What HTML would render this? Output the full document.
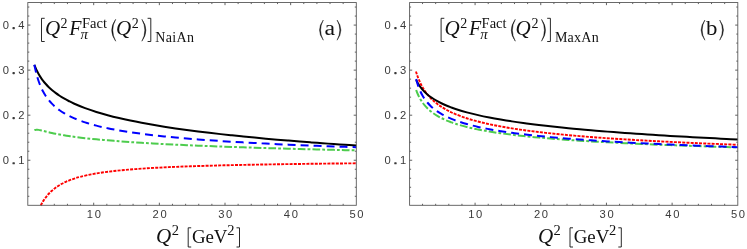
<!DOCTYPE html>
<html><head><meta charset="utf-8"><title>plot</title>
<style>
html,body{margin:0;padding:0;background:#fff;}
svg{display:block;will-change:transform;}
.tk{font-family:"Liberation Sans",sans-serif;font-size:11.2px;fill:#3a3a3a;}
.rm{font-family:"Liberation Serif",serif;fill:#111;}
.it{font-family:"Liberation Serif",serif;font-style:italic;fill:#111;}
</style></head><body>
<svg width="747" height="249" viewBox="0 0 747 249">
<rect width="747" height="249" fill="#fff"/>
<path d="M41.18 205.3v-1.5M41.18 2.55v1.5M54.31 205.3v-1.5M54.31 2.55v1.5M67.44 205.3v-1.5M67.44 2.55v1.5M80.57 205.3v-1.5M80.57 2.55v1.5M93.7 205.3v-2.6M93.7 2.55v2.6M106.83 205.3v-1.5M106.83 2.55v1.5M119.96 205.3v-1.5M119.96 2.55v1.5M133.09 205.3v-1.5M133.09 2.55v1.5M146.22 205.3v-1.5M146.22 2.55v1.5M159.35 205.3v-2.6M159.35 2.55v2.6M172.48 205.3v-1.5M172.48 2.55v1.5M185.61 205.3v-1.5M185.61 2.55v1.5M198.74 205.3v-1.5M198.74 2.55v1.5M211.87 205.3v-1.5M211.87 2.55v1.5M225 205.3v-2.6M225 2.55v2.6M238.13 205.3v-1.5M238.13 2.55v1.5M251.26 205.3v-1.5M251.26 2.55v1.5M264.39 205.3v-1.5M264.39 2.55v1.5M277.52 205.3v-1.5M277.52 2.55v1.5M290.65 205.3v-2.6M290.65 2.55v2.6M303.78 205.3v-1.5M303.78 2.55v1.5M316.91 205.3v-1.5M316.91 2.55v1.5M330.04 205.3v-1.5M330.04 2.55v1.5M343.17 205.3v-1.5M343.17 2.55v1.5M27.8 196.29h1.5M356.3 196.29h-1.5M27.8 187.28h1.5M356.3 187.28h-1.5M27.8 178.27h1.5M356.3 178.27h-1.5M27.8 169.26h1.5M356.3 169.26h-1.5M27.8 160.24h2.6M356.3 160.24h-2.6M27.8 151.23h1.5M356.3 151.23h-1.5M27.8 142.22h1.5M356.3 142.22h-1.5M27.8 133.21h1.5M356.3 133.21h-1.5M27.8 124.2h1.5M356.3 124.2h-1.5M27.8 115.19h2.6M356.3 115.19h-2.6M27.8 106.18h1.5M356.3 106.18h-1.5M27.8 97.17h1.5M356.3 97.17h-1.5M27.8 88.16h1.5M356.3 88.16h-1.5M27.8 79.14h1.5M356.3 79.14h-1.5M27.8 70.13h2.6M356.3 70.13h-2.6M27.8 61.12h1.5M356.3 61.12h-1.5M27.8 52.11h1.5M356.3 52.11h-1.5M27.8 43.1h1.5M356.3 43.1h-1.5M27.8 34.09h1.5M356.3 34.09h-1.5M27.8 25.08h2.6M356.3 25.08h-2.6M27.8 16.07h1.5M356.3 16.07h-1.5M27.8 7.06h1.5M356.3 7.06h-1.5" stroke="#444" stroke-width="0.85" fill="none"/>
<path d="M40.7 205.3C40.73 205.27 40.76 205.34 40.87 205.15C40.99 204.96 41.17 204.59 41.4 204.17C41.63 203.75 41.93 203.21 42.28 202.63C42.63 202.04 43.04 201.35 43.5 200.63C43.97 199.92 44.5 199.12 45.08 198.32C45.66 197.52 46.31 196.67 47.01 195.82C47.71 194.98 48.47 194.11 49.28 193.25C50.1 192.4 50.98 191.54 51.91 190.71C52.85 189.87 53.84 189.05 54.89 188.25C55.94 187.45 57.05 186.67 58.22 185.93C59.39 185.18 60.61 184.46 61.9 183.77C63.18 183.08 64.53 182.42 65.93 181.79C67.33 181.15 68.79 180.55 70.31 179.98C71.83 179.4 73.4 178.86 75.04 178.34C76.67 177.82 77.43 177.52 80.12 176.86C82.81 176.19 87.48 175.08 91.17 174.35C94.85 173.63 98.53 173.06 102.21 172.52C105.9 171.97 109.58 171.53 113.26 171.11C116.94 170.68 120.63 170.33 124.31 169.99C127.99 169.65 131.67 169.36 135.36 169.09C139.04 168.81 142.72 168.57 146.4 168.34C150.09 168.11 153.77 167.9 157.45 167.7C161.13 167.51 164.82 167.33 168.5 167.17C172.18 167 175.86 166.84 179.54 166.7C183.23 166.55 186.91 166.42 190.59 166.29C194.27 166.16 197.96 166.04 201.64 165.93C205.32 165.82 209 165.71 212.69 165.61C216.37 165.51 220.05 165.42 223.73 165.32C227.42 165.23 231.1 165.15 234.78 165.07C238.46 164.98 242.15 164.91 245.83 164.83C249.51 164.76 253.19 164.69 256.87 164.62C260.56 164.55 264.24 164.49 267.92 164.42C271.6 164.36 275.29 164.3 278.97 164.25C282.65 164.19 286.33 164.13 290.02 164.08C293.7 164.03 297.38 163.98 301.06 163.93C304.75 163.88 308.43 163.83 312.11 163.78C315.79 163.74 319.48 163.69 323.16 163.65C326.84 163.61 330.52 163.57 334.21 163.53C337.89 163.49 341.57 163.45 345.25 163.41C348.93 163.38 354.46 163.32 356.3 163.3" stroke="#ff0000" stroke-width="1.9" fill="none" stroke-dasharray="3.0 1.2" stroke-linejoin="round"/>
<path d="M34.37 130.28C34.4 130.26 34.43 130.24 34.55 130.19C34.66 130.13 34.84 130.04 35.07 129.97C35.3 129.89 35.6 129.8 35.95 129.76C36.3 129.71 36.71 129.68 37.17 129.7C37.64 129.72 38.17 129.77 38.75 129.87C39.33 129.96 39.98 130.1 40.68 130.26C41.38 130.42 42.14 130.61 42.96 130.82C43.77 131.02 44.65 131.26 45.58 131.49C46.52 131.73 47.51 131.98 48.56 132.22C49.61 132.47 50.72 132.73 51.89 132.98C53.06 133.24 54.28 133.5 55.57 133.75C56.85 134.01 58.2 134.26 59.6 134.52C61 134.77 62.46 135.02 63.98 135.27C65.5 135.52 67.07 135.77 68.71 136.01C70.34 136.26 71.06 136.38 73.79 136.74C76.52 137.09 81.32 137.71 85.09 138.14C88.86 138.57 92.62 138.96 96.39 139.33C100.16 139.69 103.92 140.03 107.69 140.35C111.46 140.67 115.22 140.97 118.99 141.26C122.76 141.54 126.53 141.81 130.29 142.07C134.06 142.32 137.83 142.56 141.59 142.8C145.36 143.03 149.13 143.25 152.89 143.46C156.66 143.67 160.43 143.88 164.19 144.07C167.96 144.27 171.73 144.46 175.49 144.64C179.26 144.82 183.03 144.99 186.79 145.16C190.56 145.33 194.33 145.49 198.09 145.65C201.86 145.81 205.63 145.96 209.39 146.11C213.16 146.26 216.93 146.4 220.7 146.54C224.46 146.69 228.23 146.82 232 146.95C235.76 147.09 239.53 147.21 243.3 147.34C247.06 147.47 250.83 147.59 254.6 147.71C258.36 147.83 262.13 147.94 265.9 148.06C269.66 148.17 273.43 148.28 277.2 148.39C280.96 148.5 284.73 148.61 288.5 148.71C292.26 148.82 296.03 148.92 299.8 149.02C303.56 149.12 307.33 149.22 311.1 149.31C314.87 149.41 318.63 149.5 322.4 149.59C326.17 149.69 329.93 149.78 333.7 149.87C337.47 149.95 341.23 150.04 345 150.13C348.77 150.21 354.42 150.34 356.3 150.38" stroke="#4dcc4d" stroke-width="2.0" fill="none" stroke-dasharray="7.7 2.1 2.8 2.1" stroke-linejoin="round"/>
<path d="M34.37 64.83C34.4 64.91 34.43 64.99 34.55 65.29C34.66 65.59 34.84 66.06 35.07 66.63C35.3 67.2 35.6 67.92 35.95 68.69C36.3 69.47 36.71 70.37 37.17 71.29C37.64 72.22 38.17 73.22 38.75 74.24C39.33 75.25 39.98 76.32 40.68 77.37C41.38 78.43 42.14 79.51 42.96 80.58C43.77 81.65 44.65 82.73 45.58 83.78C46.52 84.84 47.51 85.89 48.56 86.92C49.61 87.95 50.72 88.97 51.89 89.97C53.06 90.96 54.28 91.95 55.57 92.9C56.85 93.86 58.2 94.8 59.6 95.73C61 96.65 62.46 97.55 63.98 98.43C65.5 99.31 67.07 100.17 68.71 101.01C70.34 101.85 71.06 102.29 73.79 103.48C76.52 104.67 81.32 106.73 85.09 108.14C88.86 109.56 92.62 110.8 96.39 111.98C100.16 113.16 103.92 114.22 107.69 115.23C111.46 116.25 115.22 117.18 118.99 118.06C122.76 118.95 126.53 119.78 130.29 120.57C134.06 121.36 137.83 122.1 141.59 122.81C145.36 123.52 149.13 124.19 152.89 124.84C156.66 125.49 160.43 126.1 164.19 126.69C167.96 127.29 171.73 127.85 175.49 128.4C179.26 128.95 183.03 129.48 186.79 129.99C190.56 130.49 194.33 130.98 198.09 131.46C201.86 131.93 205.63 132.39 209.39 132.84C213.16 133.28 216.93 133.71 220.7 134.13C224.46 134.55 228.23 134.96 232 135.36C235.76 135.75 239.53 136.14 243.3 136.51C247.06 136.89 250.83 137.25 254.6 137.61C258.36 137.97 262.13 138.31 265.9 138.65C269.66 138.99 273.43 139.32 277.2 139.65C280.96 139.97 284.73 140.29 288.5 140.6C292.26 140.91 296.03 141.21 299.8 141.51C303.56 141.81 307.33 142.1 311.1 142.38C314.87 142.67 318.63 142.95 322.4 143.22C326.17 143.49 329.93 143.76 333.7 144.03C337.47 144.29 341.23 144.55 345 144.81C348.77 145.06 354.42 145.43 356.3 145.56" stroke="#000" stroke-width="2.0" fill="none" stroke-linejoin="round"/>
<path d="M34.37 64.69C34.4 64.84 34.43 65.02 34.55 65.6C34.66 66.17 34.84 67.1 35.07 68.16C35.3 69.23 35.6 70.58 35.95 71.99C36.3 73.39 36.71 75 37.17 76.59C37.64 78.19 38.17 79.89 38.75 81.54C39.33 83.19 39.98 84.88 40.68 86.5C41.38 88.12 42.14 89.73 42.96 91.27C43.77 92.81 44.65 94.31 45.58 95.74C46.52 97.18 47.51 98.56 48.56 99.88C49.61 101.2 50.72 102.46 51.89 103.66C53.06 104.87 54.28 106.01 55.57 107.11C56.85 108.21 58.2 109.26 59.6 110.26C61 111.26 62.46 112.21 63.98 113.12C65.5 114.04 67.07 114.9 68.71 115.74C70.34 116.57 71.06 117.02 73.79 118.13C76.52 119.23 81.32 121.12 85.09 122.37C88.86 123.62 92.62 124.64 96.39 125.62C100.16 126.6 103.92 127.43 107.69 128.22C111.46 129.02 115.22 129.72 118.99 130.38C122.76 131.04 126.53 131.64 130.29 132.21C134.06 132.77 137.83 133.29 141.59 133.79C145.36 134.28 149.13 134.74 152.89 135.17C156.66 135.61 160.43 136.01 164.19 136.4C167.96 136.79 171.73 137.15 175.49 137.5C179.26 137.85 183.03 138.18 186.79 138.5C190.56 138.82 194.33 139.12 198.09 139.41C201.86 139.7 205.63 139.98 209.39 140.24C213.16 140.51 216.93 140.77 220.7 141.01C224.46 141.26 228.23 141.5 232 141.73C235.76 141.96 239.53 142.18 243.3 142.39C247.06 142.6 250.83 142.81 254.6 143.01C258.36 143.21 262.13 143.4 265.9 143.59C269.66 143.78 273.43 143.96 277.2 144.14C280.96 144.32 284.73 144.49 288.5 144.66C292.26 144.82 296.03 144.99 299.8 145.14C303.56 145.3 307.33 145.46 311.1 145.61C314.87 145.76 318.63 145.9 322.4 146.05C326.17 146.19 329.93 146.33 333.7 146.47C337.47 146.6 341.23 146.74 345 146.87C348.77 147 354.42 147.18 356.3 147.25" stroke="#0000ff" stroke-width="2.0" fill="none" stroke-dasharray="8 5" stroke-linejoin="round"/>
<rect x="27.8" y="2.55" width="328.5" height="202.75" fill="none" stroke="#5a5a5a" stroke-width="0.9"/>
<text class="tk" x="89.95" y="218.1" text-anchor="middle">1</text>
<text class="tk" x="97.85" y="218.1" text-anchor="middle">0</text>
<text class="tk" x="155.6" y="218.1" text-anchor="middle">2</text>
<text class="tk" x="163.5" y="218.1" text-anchor="middle">0</text>
<text class="tk" x="221.25" y="218.1" text-anchor="middle">3</text>
<text class="tk" x="229.15" y="218.1" text-anchor="middle">0</text>
<text class="tk" x="286.9" y="218.1" text-anchor="middle">4</text>
<text class="tk" x="294.8" y="218.1" text-anchor="middle">0</text>
<text class="tk" x="352.55" y="218.1" text-anchor="middle">5</text>
<text class="tk" x="360.45" y="218.1" text-anchor="middle">0</text>
<text class="tk" x="5.9" y="164.24" text-anchor="middle">0</text>
<rect x="12.45" y="162.14" width="2.4" height="2.2" rx="0.7" fill="#3a3a3a"/>
<text class="tk" x="21.4" y="164.24" text-anchor="middle">1</text>
<text class="tk" x="5.9" y="119.19" text-anchor="middle">0</text>
<rect x="12.45" y="117.09" width="2.4" height="2.2" rx="0.7" fill="#3a3a3a"/>
<text class="tk" x="21.4" y="119.19" text-anchor="middle">2</text>
<text class="tk" x="5.9" y="74.13" text-anchor="middle">0</text>
<rect x="12.45" y="72.03" width="2.4" height="2.2" rx="0.7" fill="#3a3a3a"/>
<text class="tk" x="21.4" y="74.13" text-anchor="middle">3</text>
<text class="tk" x="5.9" y="29.08" text-anchor="middle">0</text>
<rect x="12.45" y="26.98" width="2.4" height="2.2" rx="0.7" fill="#3a3a3a"/>
<text class="tk" x="21.4" y="29.08" text-anchor="middle">4</text>
<text class="it" x="156.1" y="243.3" font-size="20.5" textLength="15.2" lengthAdjust="spacingAndGlyphs">Q</text>
<text class="rm" x="171.7" y="235.4" font-size="14.5">2</text>
<path d="M191.2 227.8h-3.0v19.2h3.0" stroke="#111" stroke-width="0.9" fill="none"/>
<text class="rm" x="191.9" y="243.1" font-size="19.5" textLength="35.6" lengthAdjust="spacingAndGlyphs">GeV</text>
<text class="rm" x="227.3" y="235.4" font-size="14.5">2</text>
<path d="M236.5 227.8h3.0v19.2h-3.0" stroke="#111" stroke-width="0.9" fill="none"/>
<path d="M44.7 18.3h-3.2v23.2h3.2" stroke="#111" stroke-width="0.9" fill="none"/>
<text class="it" x="44.9" y="35.2" font-size="21">Q</text>
<text class="rm" x="60.6" y="28.3" font-size="14">2</text>
<text class="it" x="69.3" y="35.1" font-size="20">F</text>
<text class="rm" x="82" y="27.8" font-size="14.6" textLength="25.0" lengthAdjust="spacingAndGlyphs">Fact</text>
<text class="it" x="80.6" y="39.2" font-size="15">π</text>
<path d="M115.7 19.3 Q107.7 30.25 115.7 41.2 Q109.8 30.25 115.7 19.3Z" fill="#111" stroke="#111" stroke-width="0.45" stroke-linejoin="round"/>
<text class="it" x="115.9" y="35.2" font-size="21">Q</text>
<text class="rm" x="131.8" y="27.9" font-size="14">2</text>
<path d="M141.9 19.3 Q149.9 30.25 141.9 41.2 Q147.8 30.25 141.9 19.3Z" fill="#111" stroke="#111" stroke-width="0.45" stroke-linejoin="round"/>
<path d="M147.6 18.3h3.2v23.2h-3.2" stroke="#111" stroke-width="0.9" fill="none"/>
<text class="rm" x="155.3" y="42.2" font-size="14" textLength="38.6" lengthAdjust="spacing">NaiAn</text>
<path d="M323.3 20 Q315.7 30.1 323.3 40.2 Q317.8 30.1 323.3 20Z" fill="#111" stroke="#111" stroke-width="0.45" stroke-linejoin="round"/>
<text class="rm" x="324.4" y="35.4" font-size="20.5" textLength="10.6" lengthAdjust="spacingAndGlyphs">a</text>
<path d="M337.1 20 Q344.7 30.1 337.1 40.2 Q342.6 30.1 337.1 20Z" fill="#111" stroke="#111" stroke-width="0.45" stroke-linejoin="round"/>
<path d="M422.54 205.3v-1.5M422.54 2.55v1.5M435.67 205.3v-1.5M435.67 2.55v1.5M448.81 205.3v-1.5M448.81 2.55v1.5M461.94 205.3v-1.5M461.94 2.55v1.5M475.08 205.3v-2.6M475.08 2.55v2.6M488.22 205.3v-1.5M488.22 2.55v1.5M501.35 205.3v-1.5M501.35 2.55v1.5M514.49 205.3v-1.5M514.49 2.55v1.5M527.62 205.3v-1.5M527.62 2.55v1.5M540.76 205.3v-2.6M540.76 2.55v2.6M553.9 205.3v-1.5M553.9 2.55v1.5M567.03 205.3v-1.5M567.03 2.55v1.5M580.17 205.3v-1.5M580.17 2.55v1.5M593.3 205.3v-1.5M593.3 2.55v1.5M606.44 205.3v-2.6M606.44 2.55v2.6M619.58 205.3v-1.5M619.58 2.55v1.5M632.71 205.3v-1.5M632.71 2.55v1.5M645.85 205.3v-1.5M645.85 2.55v1.5M658.98 205.3v-1.5M658.98 2.55v1.5M672.12 205.3v-2.6M672.12 2.55v2.6M685.26 205.3v-1.5M685.26 2.55v1.5M698.39 205.3v-1.5M698.39 2.55v1.5M711.53 205.3v-1.5M711.53 2.55v1.5M724.66 205.3v-1.5M724.66 2.55v1.5M409.6 196.29h1.5M737.8 196.29h-1.5M409.6 187.28h1.5M737.8 187.28h-1.5M409.6 178.27h1.5M737.8 178.27h-1.5M409.6 169.26h1.5M737.8 169.26h-1.5M409.6 160.24h2.6M737.8 160.24h-2.6M409.6 151.23h1.5M737.8 151.23h-1.5M409.6 142.22h1.5M737.8 142.22h-1.5M409.6 133.21h1.5M737.8 133.21h-1.5M409.6 124.2h1.5M737.8 124.2h-1.5M409.6 115.19h2.6M737.8 115.19h-2.6M409.6 106.18h1.5M737.8 106.18h-1.5M409.6 97.17h1.5M737.8 97.17h-1.5M409.6 88.16h1.5M737.8 88.16h-1.5M409.6 79.14h1.5M737.8 79.14h-1.5M409.6 70.13h2.6M737.8 70.13h-2.6M409.6 61.12h1.5M737.8 61.12h-1.5M409.6 52.11h1.5M737.8 52.11h-1.5M409.6 43.1h1.5M737.8 43.1h-1.5M409.6 34.09h1.5M737.8 34.09h-1.5M409.6 25.08h2.6M737.8 25.08h-2.6M409.6 16.07h1.5M737.8 16.07h-1.5M409.6 7.06h1.5M737.8 7.06h-1.5" stroke="#444" stroke-width="0.85" fill="none"/>
<path d="M415.97 71.44C416 71.54 416.03 71.65 416.14 72.03C416.26 72.4 416.43 73 416.67 73.71C416.9 74.42 417.19 75.32 417.54 76.28C417.89 77.25 418.3 78.36 418.77 79.48C419.23 80.61 419.76 81.84 420.34 83.05C420.93 84.26 421.57 85.53 422.27 86.76C422.97 88 423.73 89.26 424.54 90.47C425.36 91.69 426.24 92.91 427.17 94.08C428.1 95.26 429.1 96.41 430.15 97.52C431.2 98.64 432.3 99.72 433.47 100.77C434.64 101.82 435.86 102.83 437.15 103.81C438.43 104.8 439.77 105.74 441.17 106.66C442.57 107.57 444.03 108.45 445.55 109.3C447.07 110.16 448.64 110.98 450.28 111.77C451.91 112.56 452.62 112.99 455.35 114.07C458.08 115.14 462.88 116.99 466.65 118.24C470.42 119.48 474.18 120.52 477.95 121.51C481.71 122.5 485.48 123.36 489.24 124.18C493.01 125 496.78 125.73 500.54 126.43C504.31 127.12 508.07 127.75 511.84 128.35C515.61 128.95 519.37 129.5 523.14 130.03C526.9 130.56 530.67 131.04 534.44 131.51C538.2 131.98 541.97 132.42 545.73 132.84C549.5 133.26 553.27 133.65 557.03 134.03C560.8 134.41 564.56 134.77 568.33 135.12C572.1 135.46 575.86 135.79 579.63 136.11C583.39 136.43 587.16 136.73 590.93 137.02C594.69 137.31 598.46 137.59 602.22 137.87C605.99 138.14 609.76 138.4 613.52 138.65C617.29 138.9 621.05 139.15 624.82 139.38C628.59 139.62 632.35 139.85 636.12 140.07C639.88 140.29 643.65 140.5 647.42 140.71C651.18 140.92 654.95 141.12 658.71 141.32C662.48 141.51 666.25 141.7 670.01 141.89C673.78 142.07 677.54 142.25 681.31 142.43C685.08 142.61 688.84 142.78 692.61 142.94C696.37 143.11 700.14 143.27 703.91 143.43C707.67 143.59 711.44 143.75 715.2 143.9C718.97 144.05 722.74 144.2 726.5 144.34C730.27 144.49 735.92 144.7 737.8 144.77" stroke="#ff0000" stroke-width="1.9" fill="none" stroke-dasharray="3.0 1.2" stroke-linejoin="round"/>
<path d="M416.16 89.97C416.19 90.06 416.22 90.15 416.34 90.46C416.46 90.78 416.63 91.28 416.86 91.86C417.1 92.45 417.39 93.2 417.74 93.99C418.09 94.78 418.5 95.69 418.96 96.61C419.43 97.52 419.96 98.52 420.54 99.49C421.12 100.47 421.77 101.48 422.47 102.47C423.17 103.46 423.92 104.46 424.74 105.43C425.56 106.39 426.43 107.35 427.37 108.27C428.3 109.2 429.29 110.1 430.34 110.98C431.39 111.85 432.5 112.69 433.67 113.51C434.84 114.33 436.06 115.12 437.34 115.88C438.63 116.64 439.97 117.37 441.37 118.08C442.77 118.79 444.23 119.47 445.75 120.13C447.26 120.79 448.84 121.42 450.47 122.03C452.11 122.64 452.82 122.97 455.55 123.8C458.28 124.62 463.07 126.05 466.84 127C470.6 127.95 474.36 128.75 478.13 129.51C481.89 130.27 485.65 130.93 489.42 131.56C493.18 132.18 496.94 132.74 500.71 133.27C504.47 133.81 508.24 134.29 512 134.75C515.76 135.21 519.53 135.63 523.29 136.03C527.05 136.43 530.82 136.81 534.58 137.17C538.34 137.52 542.11 137.86 545.87 138.18C549.63 138.5 553.4 138.8 557.16 139.09C560.92 139.39 564.69 139.66 568.45 139.93C572.21 140.19 575.98 140.44 579.74 140.69C583.5 140.93 587.27 141.16 591.03 141.39C594.79 141.61 598.56 141.83 602.32 142.03C606.08 142.24 609.85 142.44 613.61 142.63C617.37 142.83 621.14 143.01 624.9 143.2C628.66 143.38 632.43 143.55 636.19 143.72C639.95 143.89 643.72 144.05 647.48 144.21C651.24 144.37 655.01 144.53 658.77 144.68C662.53 144.83 666.3 144.98 670.06 145.12C673.82 145.26 677.59 145.4 681.35 145.54C685.11 145.67 688.88 145.8 692.64 145.93C696.4 146.06 700.17 146.18 703.93 146.31C707.69 146.43 711.46 146.55 715.22 146.66C718.98 146.78 722.75 146.89 726.51 147.01C730.27 147.12 735.92 147.28 737.8 147.33" stroke="#4dcc4d" stroke-width="2.0" fill="none" stroke-dasharray="7.7 2.1 2.8 2.1" stroke-linejoin="round"/>
<path d="M416.16 79.93C416.19 79.99 416.22 80.06 416.34 80.3C416.46 80.53 416.63 80.9 416.86 81.34C417.1 81.78 417.39 82.34 417.74 82.94C418.09 83.55 418.5 84.24 418.96 84.95C419.43 85.66 419.96 86.43 420.54 87.2C421.12 87.98 421.77 88.78 422.47 89.58C423.17 90.38 423.92 91.2 424.74 92C425.56 92.81 426.43 93.61 427.37 94.4C428.3 95.19 429.29 95.97 430.34 96.74C431.39 97.51 432.5 98.26 433.67 99C434.84 99.74 436.06 100.46 437.34 101.17C438.63 101.88 439.97 102.57 441.37 103.25C442.77 103.93 444.23 104.59 445.75 105.24C447.26 105.88 448.84 106.52 450.47 107.13C452.11 107.75 452.82 108.07 455.55 108.94C458.28 109.81 463.07 111.31 466.84 112.35C470.6 113.38 474.36 114.28 478.13 115.14C481.89 116 485.65 116.77 489.42 117.51C493.18 118.25 496.94 118.92 500.71 119.57C504.47 120.21 508.24 120.81 512 121.38C515.76 121.96 519.53 122.49 523.29 123.01C527.05 123.53 530.82 124.01 534.58 124.48C538.34 124.95 542.11 125.4 545.87 125.83C549.63 126.26 553.4 126.67 557.16 127.06C560.92 127.46 564.69 127.84 568.45 128.21C572.21 128.58 575.98 128.93 579.74 129.28C583.5 129.62 587.27 129.95 591.03 130.27C594.79 130.6 598.56 130.91 602.32 131.21C606.08 131.52 609.85 131.81 613.61 132.1C617.37 132.38 621.14 132.66 624.9 132.93C628.66 133.2 632.43 133.47 636.19 133.73C639.95 133.98 643.72 134.23 647.48 134.48C651.24 134.73 655.01 134.97 658.77 135.2C662.53 135.43 666.3 135.66 670.06 135.89C673.82 136.11 677.59 136.33 681.35 136.54C685.11 136.76 688.88 136.97 692.64 137.18C696.4 137.38 700.17 137.58 703.93 137.78C707.69 137.98 711.46 138.17 715.22 138.37C718.98 138.56 722.75 138.74 726.51 138.93C730.27 139.11 735.92 139.38 737.8 139.47" stroke="#000" stroke-width="2.0" fill="none" stroke-linejoin="round"/>
<path d="M416.16 79.07C416.19 79.19 416.22 79.32 416.34 79.76C416.46 80.2 416.63 80.9 416.86 81.71C417.1 82.51 417.39 83.53 417.74 84.59C418.09 85.65 418.5 86.85 418.96 88.05C419.43 89.24 419.96 90.52 420.54 91.76C421.12 93 421.77 94.26 422.47 95.49C423.17 96.71 423.92 97.93 424.74 99.1C425.56 100.27 426.43 101.42 427.37 102.52C428.3 103.62 429.29 104.69 430.34 105.71C431.39 106.74 432.5 107.73 433.67 108.68C434.84 109.63 436.06 110.54 437.34 111.42C438.63 112.3 439.97 113.14 441.37 113.95C442.77 114.76 444.23 115.54 445.75 116.29C447.26 117.04 448.84 117.75 450.47 118.45C452.11 119.14 452.82 119.52 455.55 120.45C458.28 121.39 463.07 123 466.84 124.07C470.6 125.15 474.36 126.05 478.13 126.9C481.89 127.76 485.65 128.5 489.42 129.21C493.18 129.92 496.94 130.55 500.71 131.15C504.47 131.75 508.24 132.29 512 132.81C515.76 133.33 519.53 133.8 523.29 134.26C527.05 134.71 530.82 135.14 534.58 135.54C538.34 135.95 542.11 136.32 545.87 136.69C549.63 137.05 553.4 137.39 557.16 137.72C560.92 138.05 564.69 138.37 568.45 138.67C572.21 138.97 575.98 139.25 579.74 139.53C583.5 139.81 587.27 140.07 591.03 140.33C594.79 140.58 598.56 140.83 602.32 141.06C606.08 141.3 609.85 141.53 613.61 141.75C617.37 141.97 621.14 142.18 624.9 142.39C628.66 142.6 632.43 142.8 636.19 142.99C639.95 143.18 643.72 143.37 647.48 143.55C651.24 143.74 655.01 143.91 658.77 144.09C662.53 144.26 666.3 144.43 670.06 144.59C673.82 144.75 677.59 144.91 681.35 145.07C685.11 145.22 688.88 145.37 692.64 145.52C696.4 145.67 700.17 145.81 703.93 145.95C707.69 146.09 711.46 146.23 715.22 146.36C718.98 146.5 722.75 146.63 726.51 146.76C730.27 146.89 735.92 147.07 737.8 147.13" stroke="#0000ff" stroke-width="2.0" fill="none" stroke-dasharray="8 5" stroke-linejoin="round"/>
<rect x="409.6" y="2.55" width="328.2" height="202.75" fill="none" stroke="#5a5a5a" stroke-width="0.9"/>
<text class="tk" x="471.33" y="218.1" text-anchor="middle">1</text>
<text class="tk" x="479.23" y="218.1" text-anchor="middle">0</text>
<text class="tk" x="537.01" y="218.1" text-anchor="middle">2</text>
<text class="tk" x="544.91" y="218.1" text-anchor="middle">0</text>
<text class="tk" x="602.69" y="218.1" text-anchor="middle">3</text>
<text class="tk" x="610.59" y="218.1" text-anchor="middle">0</text>
<text class="tk" x="668.37" y="218.1" text-anchor="middle">4</text>
<text class="tk" x="676.27" y="218.1" text-anchor="middle">0</text>
<text class="tk" x="734.05" y="218.1" text-anchor="middle">5</text>
<text class="tk" x="741.95" y="218.1" text-anchor="middle">0</text>
<text class="tk" x="387.7" y="164.24" text-anchor="middle">0</text>
<rect x="394.25" y="162.14" width="2.4" height="2.2" rx="0.7" fill="#3a3a3a"/>
<text class="tk" x="403.2" y="164.24" text-anchor="middle">1</text>
<text class="tk" x="387.7" y="119.19" text-anchor="middle">0</text>
<rect x="394.25" y="117.09" width="2.4" height="2.2" rx="0.7" fill="#3a3a3a"/>
<text class="tk" x="403.2" y="119.19" text-anchor="middle">2</text>
<text class="tk" x="387.7" y="74.13" text-anchor="middle">0</text>
<rect x="394.25" y="72.03" width="2.4" height="2.2" rx="0.7" fill="#3a3a3a"/>
<text class="tk" x="403.2" y="74.13" text-anchor="middle">3</text>
<text class="tk" x="387.7" y="29.08" text-anchor="middle">0</text>
<rect x="394.25" y="26.98" width="2.4" height="2.2" rx="0.7" fill="#3a3a3a"/>
<text class="tk" x="403.2" y="29.08" text-anchor="middle">4</text>
<text class="it" x="537.9" y="243.3" font-size="20.5" textLength="15.2" lengthAdjust="spacingAndGlyphs">Q</text>
<text class="rm" x="553.5" y="235.4" font-size="14.5">2</text>
<path d="M573 227.8h-3.0v19.2h3.0" stroke="#111" stroke-width="0.9" fill="none"/>
<text class="rm" x="573.7" y="243.1" font-size="19.5" textLength="35.6" lengthAdjust="spacingAndGlyphs">GeV</text>
<text class="rm" x="609.1" y="235.4" font-size="14.5">2</text>
<path d="M618.3 227.8h3.0v19.2h-3.0" stroke="#111" stroke-width="0.9" fill="none"/>
<path d="M444.3 18.3h-3.2v23.2h3.2" stroke="#111" stroke-width="0.9" fill="none"/>
<text class="it" x="444.5" y="35.2" font-size="21">Q</text>
<text class="rm" x="460.2" y="28.3" font-size="14">2</text>
<text class="it" x="468.9" y="35.1" font-size="20">F</text>
<text class="rm" x="481.6" y="27.8" font-size="14.6" textLength="25.0" lengthAdjust="spacingAndGlyphs">Fact</text>
<text class="it" x="480.2" y="39.2" font-size="15">π</text>
<path d="M515.3 19.3 Q507.3 30.25 515.3 41.2 Q509.4 30.25 515.3 19.3Z" fill="#111" stroke="#111" stroke-width="0.45" stroke-linejoin="round"/>
<text class="it" x="515.5" y="35.2" font-size="21">Q</text>
<text class="rm" x="531.4" y="27.9" font-size="14">2</text>
<path d="M541.5 19.3 Q549.5 30.25 541.5 41.2 Q547.4 30.25 541.5 19.3Z" fill="#111" stroke="#111" stroke-width="0.45" stroke-linejoin="round"/>
<path d="M547.2 18.3h3.2v23.2h-3.2" stroke="#111" stroke-width="0.9" fill="none"/>
<text class="rm" x="554.9" y="42.2" font-size="14" textLength="43.8" lengthAdjust="spacing">MaxAn</text>
<path d="M704.9 20 Q697.3 30.1 704.9 40.2 Q699.4 30.1 704.9 20Z" fill="#111" stroke="#111" stroke-width="0.45" stroke-linejoin="round"/>
<text class="rm" x="706" y="35.4" font-size="20.5" textLength="11.4" lengthAdjust="spacingAndGlyphs">b</text>
<path d="M719.7 20 Q727.3 30.1 719.7 40.2 Q725.2 30.1 719.7 20Z" fill="#111" stroke="#111" stroke-width="0.45" stroke-linejoin="round"/>
</svg></body></html>
